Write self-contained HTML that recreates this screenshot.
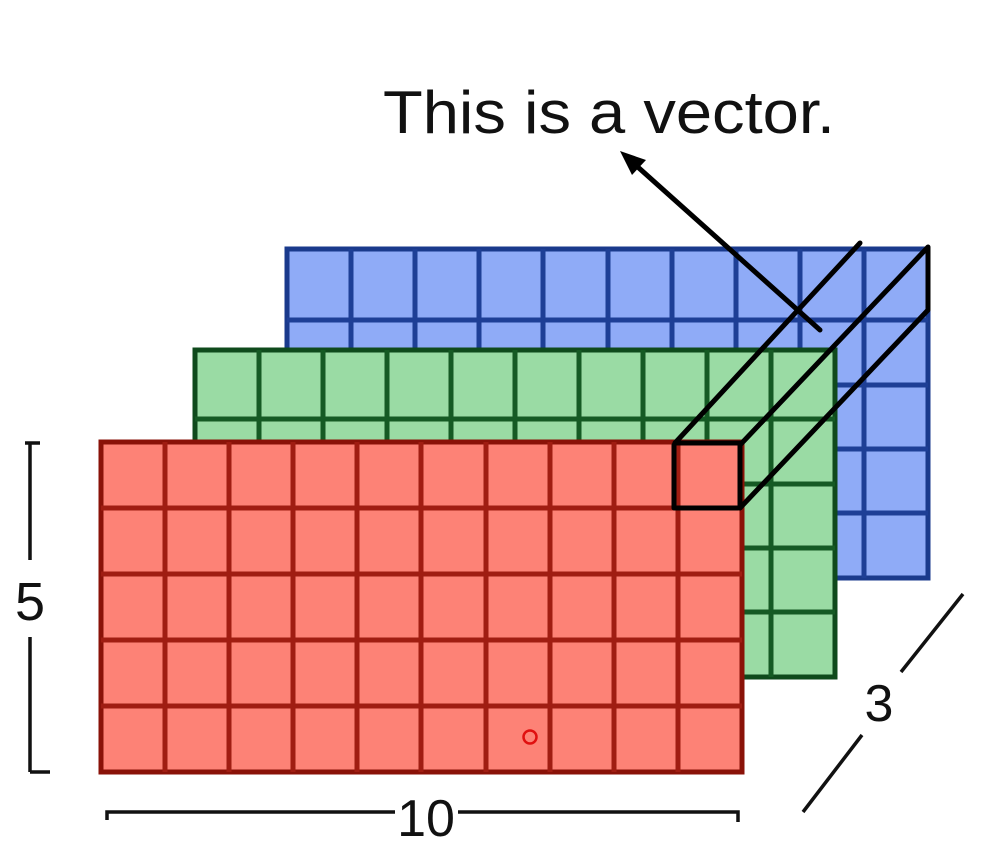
<!DOCTYPE html>
<html><head><meta charset="utf-8"><style>html,body{margin:0;padding:0;background:#fff;}svg{display:block}</style></head>
<body>
<svg width="999" height="858" viewBox="0 0 999 858" xmlns="http://www.w3.org/2000/svg">
<!-- blue -->
<rect x="287" y="249" width="641" height="329" fill="#8fabf7" stroke="#1a3a8c" stroke-width="5"/>
<path d="M351 249V578M415 249V578M479 249V578M543 249V578M608 249V578M672 249V578M736 249V578M800 249V578M864 249V578M287 320H928M287 385H928M287 449H928M287 513H928" stroke="#1e3f96" stroke-width="5" fill="none"/>
<!-- green -->
<rect x="195" y="350" width="640" height="327" fill="#9adba4" stroke="#0f4a1c" stroke-width="5"/>
<path d="M259 350V677M323 350V677M387 350V677M451 350V677M515 350V677M579 350V677M643 350V677M707 350V677M771 350V677M195 419H835M195 484H835M195 548H835M195 612H835" stroke="#155a24" stroke-width="5" fill="none"/>
<!-- red -->
<rect x="101" y="442" width="641" height="330" fill="#fd8276" stroke="#8a1208" stroke-width="5"/>
<path d="M165 442V772M229 442V772M293 442V772M357 442V772M421 442V772M486 442V772M550 442V772M614 442V772M678 442V772M101 508H742M101 574H742M101 640H742M101 706H742" stroke="#a01d12" stroke-width="5" fill="none"/>
<circle cx="530" cy="737" r="6.5" fill="none" stroke="#e01010" stroke-width="2.5"/>
<!-- vector box -->
<g stroke="#000" stroke-width="5" fill="none" stroke-linecap="round" stroke-linejoin="round">
<path d="M675 443H740V505M740 508V505M738 508H674V445"/>
<path d="M675 443L860 243"/>
<path d="M740 445L928 247V310L740 508"/>
<path d="M820 330L630 160"/>
</g>
<polygon points="620,151 646,160 632,175" fill="#000"/>
<!-- dimensions -->
<g stroke="#111" stroke-width="3.5" fill="none">
<path d="M30 443V560M30 637V772M25 443H40M30 772H50"/>
<path d="M107 820V812H395M458 812H738V822"/>
<path d="M963 594L901 672M862 735L803 812"/>
</g>
<g font-family="Liberation Sans, sans-serif" fill="#111">
<text x="383" y="133" font-size="60" textLength="452" lengthAdjust="spacingAndGlyphs">This is a vector.</text>
<text x="30" y="620" font-size="54" text-anchor="middle">5</text>
<text x="426" y="836" font-size="52" text-anchor="middle">10</text>
<text x="879" y="721" font-size="52" text-anchor="middle">3</text>
</g>
</svg>
</body></html>
